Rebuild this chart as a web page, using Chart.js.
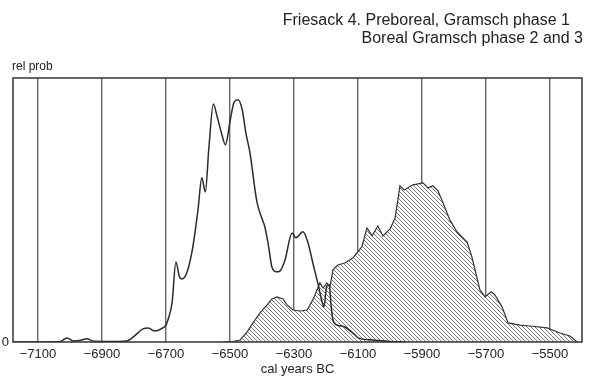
<!DOCTYPE html>
<html>
<head>
<meta charset="utf-8">
<script src="https://cdn.jsdelivr.net/npm/chart.js@4"></script>
<style>
  body { margin: 0; background: #fff; }
  #wrap { position: relative; width: 595px; height: 384px; }
  .lbl { position: absolute; font-family: "Liberation Sans", Arial, sans-serif; color: #222; white-space: nowrap; }
  #t1 { right: 25px; top: 11px; font-size: 16px; line-height: 18px; }
  #t2 { right: 12px; top: 29px; font-size: 16px; line-height: 18px; }
  #relprob { left: 12px; top: 59px; font-size: 12px; line-height: 14px; }
</style>
</head>
<body>
<div id="wrap">
  <canvas id="myChart" width="595" height="384"></canvas>
  <div class="lbl" id="t1">Friesack 4. Preboreal, Gramsch phase 1</div>
  <div class="lbl" id="t2">Boreal Gramsch phase 2 and 3</div>
  <div class="lbl" id="relprob">rel prob</div>
</div>
<script>
// calibrated years (BC as negative) and relative probability
const tickYears = [-7100, -6900, -6700, -6500, -6300, -6100, -5900, -5700, -5500];

const prebYears = [-7178, -7060, -7030, -7009, -6990, -6970, -6947, -6925, -6850, -6822,
  -6803, -6772, -6756, -6734, -6710, -6700, -6694, -6681, -6669, -6658,
  -6650, -6634, -6616, -6600, -6588, -6577, -6566, -6552, -6540, -6526,
  -6514, -6500, -6487, -6475, -6462, -6450, -6438, -6416, -6400, -6391,
  -6380, -6369, -6355, -6344, -6328, -6306, -6294, -6272, -6256, -6241,
  -6225, -6215, -6206, -6198, -6190, -6184, -6178, -6165, -6141, -6110,
  -6100, -6053, -6000, -5950];
const prebProb = [0, 0, 0.002, 0.017, 0.004, 0.006, 0.013, 0.003, 0.002, 0.004,
  0.02, 0.054, 0.058, 0.045, 0.058, 0.07, 0.091, 0.161, 0.33, 0.27,
  0.26, 0.289, 0.393, 0.545, 0.678, 0.62, 0.80, 0.983, 0.93, 0.86,
  0.814, 0.91, 0.99, 1.0, 0.96, 0.86, 0.785, 0.58, 0.51, 0.475,
  0.40, 0.31, 0.29, 0.293, 0.339, 0.45, 0.43, 0.455, 0.409, 0.326,
  0.24, 0.18, 0.145, 0.23, 0.236, 0.15, 0.09, 0.07, 0.062, 0.03,
  0.017, 0.008, 0.002, 0];

const borYears = [-6520, -6491, -6469, -6447, -6428, -6406, -6384, -6369, -6353, -6334,
  -6322, -6303, -6281, -6259, -6241, -6219, -6209, -6197, -6188, -6178,
  -6163, -6141, -6116, -6088, -6072, -6056, -6038, -6022, -6000, -5984,
  -5969, -5956, -5928, -5897, -5881, -5866, -5850, -5834, -5813, -5791,
  -5759, -5744, -5719, -5703, -5684, -5672, -5650, -5631, -5594, -5563,
  -5509, -5469, -5438, -5419, -5413];
const borProb = [0, 0.002, 0.008, 0.041, 0.079, 0.12, 0.153, 0.178, 0.186, 0.178,
  0.153, 0.132, 0.128, 0.132, 0.174, 0.244, 0.223, 0.244, 0.227, 0.298,
  0.318, 0.326, 0.347, 0.393, 0.471, 0.438, 0.479, 0.438, 0.467, 0.512,
  0.645, 0.628, 0.649, 0.657, 0.636, 0.645, 0.624, 0.574, 0.504, 0.455,
  0.413, 0.351, 0.215, 0.186, 0.207, 0.194, 0.145, 0.079, 0.07, 0.066,
  0.058, 0.037, 0.025, 0.004, 0];

function toPoints(xs, ys) {
  return xs.map((x, i) => ({ x: x, y: ys[i] }));
}

// diagonal hatch for the Boreal area (opaque, so it hides the grid lines)
function makeHatch() {
  const c = document.createElement('canvas');
  c.width = 4; c.height = 4;
  const g = c.getContext('2d');
  g.fillStyle = '#fff';
  g.fillRect(0, 0, 4, 4);
  g.strokeStyle = '#7a7a7a';
  g.lineWidth = 1;
  g.beginPath();
  g.moveTo(-1, -1); g.lineTo(5, 5);
  g.moveTo(-1, 3); g.lineTo(1, 5);
  g.moveTo(3, -1); g.lineTo(5, 1);
  g.stroke();
  return g.createPattern(c, 'repeat');
}

const frameBox = {
  id: 'frameBox',
  afterDatasetsDraw(chart) {
    const a = chart.chartArea;
    const ctx = chart.ctx;
    ctx.save();
    ctx.strokeStyle = '#333';
    ctx.lineWidth = 1.5;
    ctx.strokeRect(a.left, a.top, a.right - a.left, a.bottom - a.top);
    ctx.restore();
  }
};

const font = "'Liberation Sans', Arial, sans-serif";

const config = {
  type: 'line',
  data: {
    datasets: [{
      label: 'Preboreal',
      data: toPoints(prebYears, prebProb),
      borderColor: '#2b2b2b',
      borderWidth: 1.5,
      pointRadius: 0,
      fill: false,
      cubicInterpolationMode: 'monotone'
    }, {
      label: 'Boreal',
      data: toPoints(borYears, borProb),
      borderColor: '#333',
      borderWidth: 1.2,
      backgroundColor: makeHatch(),
      pointRadius: 0,
      fill: 'origin',
      tension: 0
    }]
  },
  options: {
    responsive: false,
    animation: false,
    layout: { padding: { top: 78, right: 13, left: 0, bottom: 0 } },
    plugins: {
      legend: { display: false },
      tooltip: { enabled: false }
    },
    scales: {
      x: {
        type: 'linear',
        min: -7178,
        max: -5400,
        afterBuildTicks: s => { s.ticks = tickYears.map(v => ({ value: v })); },
        afterFit: s => { s.height = 42; },
        grid: { color: '#666', lineWidth: 1.4, drawTicks: false },
        border: { display: false },
        ticks: {
          padding: 5,
          color: '#222',
          font: { family: font, size: 13 },
          maxRotation: 0,
          callback: v => String(v).replace('-', '\u2212')
        },
        title: {
          display: true,
          text: 'cal years BC',
          color: '#222',
          font: { family: font, size: 13 },
          padding: { top: 0, bottom: 7 }
        }
      },
      y: {
        min: 0,
        max: 1.09,
        afterBuildTicks: s => { s.ticks = [{ value: 0 }]; },
        afterFit: s => { s.width = 13; },
        grid: { display: false, drawTicks: false },
        border: { display: false },
        ticks: {
          padding: 4,
          color: '#222',
          font: { family: font, size: 13 }
        }
      }
    }
  },
  plugins: [frameBox]
};

const myChart = new Chart(document.getElementById('myChart'), config);
</script>
</body>
</html>
